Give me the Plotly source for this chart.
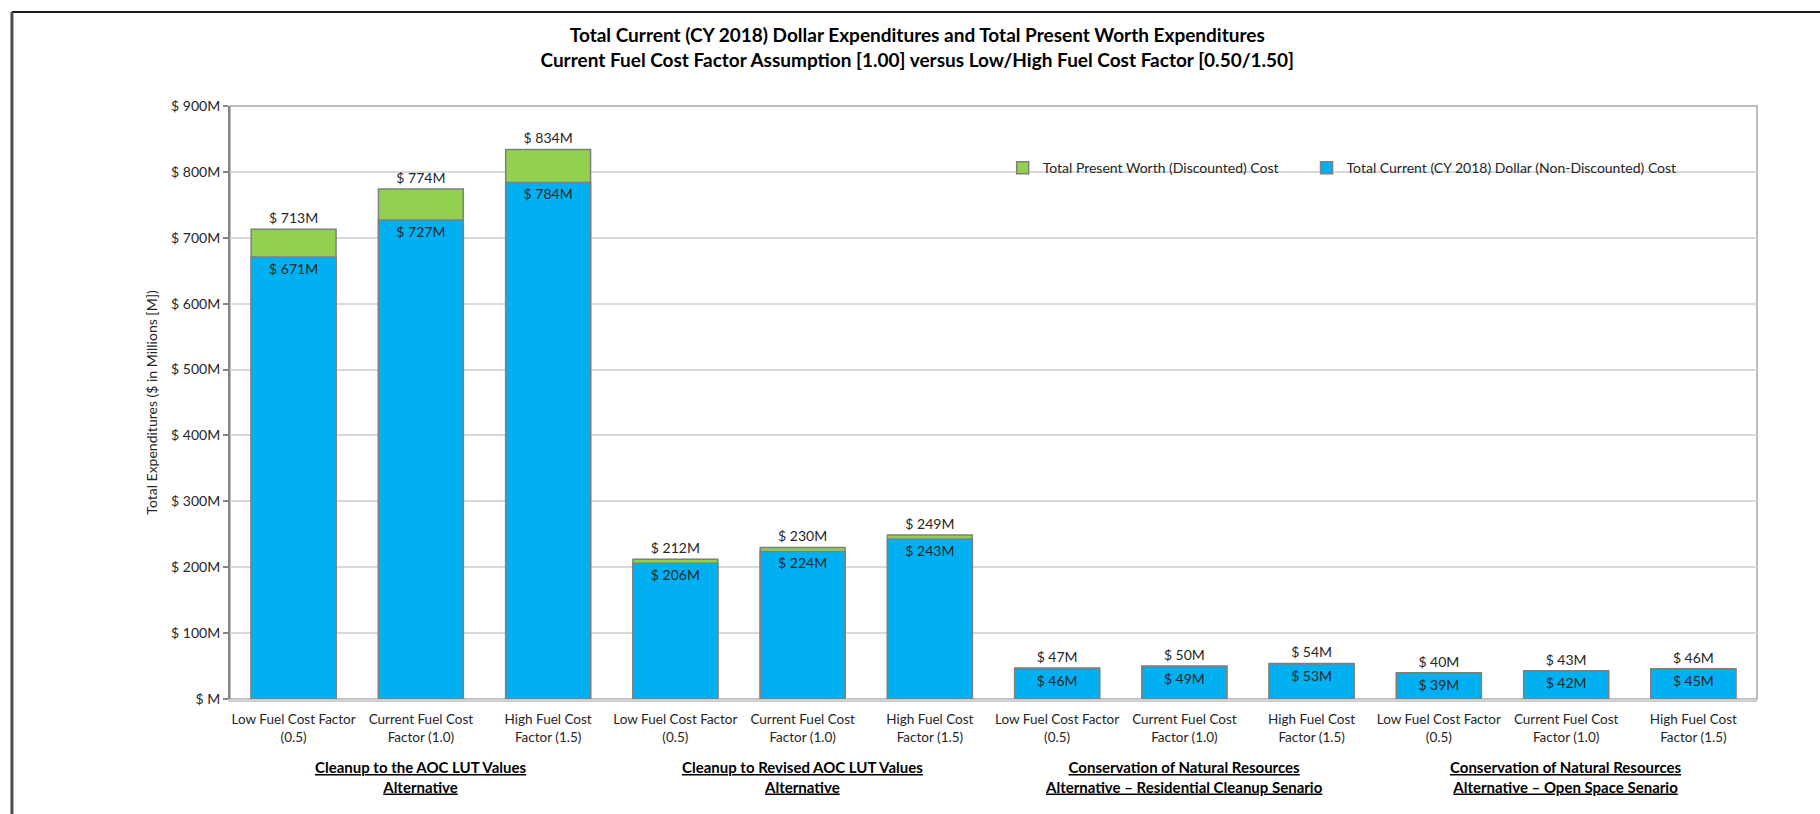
import plotly.graph_objects as go

# ---- data ----
fuel_labels = ["Low Fuel Cost Factor<br>(0.5)", "Current Fuel Cost<br>Factor (1.0)", "High Fuel Cost<br>Factor (1.5)"]
groups = [
    ["Cleanup to the AOC LUT Values", "Alternative"],
    ["Cleanup to Revised AOC LUT Values", "Alternative"],
    ["Conservation of Natural Resources", "Alternative \u2013 Residential Cleanup Senario"],
    ["Conservation of Natural Resources", "Alternative \u2013 Open Space Senario"],
]
present_worth = [713, 774, 834, 212, 230, 249, 47, 50, 54, 40, 43, 46]
current_dollar = [671, 727, 784, 206, 224, 243, 46, 49, 53, 39, 42, 45]
y_ticks = [0, 100, 200, 300, 400, 500, 600, 700, 800, 900]
y_tick_text = ["$ M" if v == 0 else f"$ {v}M" for v in y_ticks]

series_names = ["Total Present Worth (Discounted) Cost",
                "Total Current (CY 2018) Dollar (Non-Discounted) Cost"]

x = list(range(len(present_worth)))
x_ticktext = fuel_labels * len(groups)

FONT = "Lato, Liberation Sans, sans-serif"
TXT = "#262626"

fig = go.Figure()
fig.add_trace(go.Bar(
    x=x, y=present_worth, name=series_names[0], legend="legend",
    marker=dict(color="#92D050", line=dict(color="#7F7F7F", width=1.5)),
    text=[f"$ {v}M" for v in present_worth], textposition="outside",
    textfont=dict(family=FONT, size=14, color=TXT), cliponaxis=False,
    width=0.667,
))
fig.add_trace(go.Bar(
    x=x, y=current_dollar, name=series_names[1], legend="legend2",
    marker=dict(color="#00B0F0", line=dict(color="#7F7F7F", width=1.5)),
    text=[f"$ {v}M" for v in current_dollar], textposition="inside",
    insidetextanchor="end", constraintext="none",
    textfont=dict(family=FONT, size=14, color=TXT),
    width=0.667,
))

annotations = []
for i, (l1, l2) in enumerate(groups):
    annotations.append(dict(
        x=i * 3 + 1, xref="x", y=-0.096, yref="paper", yanchor="top",
        text=f"<b><u>{l1}</u></b><br><b><u>{l2}</u></b>",
        showarrow=False, font=dict(family=FONT, size=15, color="#000000"),
        align="center",
    ))

shapes = [
    # plot area border
    dict(type="rect", xref="paper", yref="paper", x0=0, x1=1, y0=0, y1=1,
         line=dict(color="#A6A6A6", width=1.5), layer="below"),
    # outer chart frame (top and left)
    dict(type="line", xref="paper", yref="paper", x0=-0.1428, x1=1.1, y0=1.1585, y1=1.1585,
         line=dict(color="#1A1A1A", width=2)),
    dict(type="line", xref="paper", yref="paper", x0=-0.1428, x1=-0.1428, y0=1.1585, y1=-0.2,
         line=dict(color="#4D4D4D", width=3)),
]

legend_common = dict(
    orientation="h", y=0.895, yanchor="middle", xanchor="left",
    bgcolor="rgba(0,0,0,0)", font=dict(family=FONT, size=14, color=TXT),
)

fig.update_layout(
    width=1820, height=814,
    margin=dict(l=230, r=63, t=106, b=115),
    paper_bgcolor="white", plot_bgcolor="white",
    barmode="overlay",
    title=dict(
        text="<b>Total Current (CY 2018) Dollar Expenditures and Total Present Worth Expenditures<br>"
             "Current Fuel Cost Factor Assumption [1.00] versus Low/High Fuel Cost Factor [0.50/1.50]</b>",
        x=0.504, xanchor="center", y=0.948, yanchor="top",
        font=dict(family=FONT, size=19, color="#000000"),
    ),
    legend=dict(x=0.506, **legend_common),
    legend2=dict(x=0.705, **legend_common),
    xaxis=dict(
        tickmode="array", tickvals=x, ticktext=x_ticktext,
        range=[-0.5, len(x) - 0.5],
        showline=True, linecolor="#D0D0D0", linewidth=2.5,
        showgrid=False, ticks="outside", ticklen=6, tickcolor="rgba(0,0,0,0)",
        zeroline=False,
        tickfont=dict(family=FONT, size=13.5, color=TXT),
    ),
    yaxis=dict(
        range=[0, 900], tickmode="array", tickvals=y_ticks, ticktext=y_tick_text,
        showline=True, linecolor="#868686", linewidth=2,
        ticks="outside", ticklen=5, tickcolor="#868686", tickwidth=1.5,
        showgrid=True, gridcolor="#D9D9D9", gridwidth=1.5, zeroline=False,
        tickfont=dict(family=FONT, size=14, color=TXT),
        title=dict(text="Total Expenditures ($ in Millions [M])", standoff=10,
                   font=dict(family=FONT, size=14, color=TXT)),
    ),
    annotations=annotations,
    shapes=shapes,
    showlegend=True,
)

fig.write_html("out.html")
